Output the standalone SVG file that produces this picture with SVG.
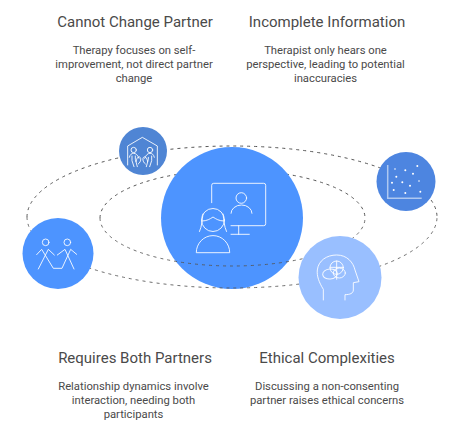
<svg xmlns="http://www.w3.org/2000/svg" width="465" height="440" viewBox="0 0 465 440">
<style>
.t{font-family:Roboto,"Liberation Sans",sans-serif;fill:#4a4a4a;text-anchor:middle}
.h{font-size:15px}
.b{font-size:11.250px}
.o{fill:none;stroke:#555;stroke-width:1;stroke-dasharray:3 4}
.i{fill:none;stroke:#fff;stroke-opacity:.88;stroke-width:1;stroke-linecap:round;stroke-linejoin:round}
.j{fill:none;stroke:#fff;stroke-opacity:.88;stroke-width:3;stroke-linecap:round;stroke-linejoin:round}
.d{fill:#fff}
</style>
<rect width="465" height="440" fill="#fff"/>
<g id="connectors-back">
<path class="o" d="M27 217A205 71 0 0 1 437 217"/>
<path class="o" d="M100 218A132.500 48 0 0 1 365 218"/>
</g>
<g id="node-center">
<circle cx="232" cy="218" r="71" fill="#4d94ff"/>
<path class="i" d="M211.700 202.700V185.300a2 2 0 0 1 2-2H263.700a2 2 0 0 1 2 2V223.700a2 2 0 0 1-2 2H231M238.700 225.700V234.300M231 234.300H249.300"/>
<circle class="i" cx="241.300" cy="198" r="5.300"/>
<path class="i" d="M231 213.300a10.500 8.300 0 0 1 21 0"/>
<circle class="i" cx="213" cy="220" r="11.500"/>
<path class="i" d="M202 221c5 0 8-2 11-4c3 2 6 4 11 4M203 214c-1 6-1 12-3.500 17.500M223 214c1 6 1 12 3.500 17.500"/>
<path class="i" d="M196.300 252.300a16.700 16.700 0 0 1 33.400 0Z"/>
</g>
<g id="connectors-front">
<path class="o" d="M27 217A205 71 0 0 0 437 217" stroke-opacity=".85"/>
<path class="o" d="M100 218A132.500 48 0 0 0 365 218" stroke-opacity=".85"/>
</g>
<g id="node-cannot-change">
<circle cx="143" cy="151" r="24" fill="#4f85d4"/>
<g transform="translate(110 120) scale(.3333)">
<path class="j" d="M53 135V78L97 52L142 78V135"/>
<circle class="j" cx="71" cy="90" r="8"/>
<circle class="j" cx="120" cy="90" r="8"/>
<path class="j" d="M58 112C60 103 65 100 71 100C78 100 83 105 87 115M133 112C131 103 126 100 120 100C113 100 108 105 104 115M66 108V122L72 140M76 108V118L82 140M125 108V122L119 140M115 112V118L109 140M78 125C80 112 88 105 92 115C94 122 88 130 85 132M113 125C111 112 103 105 99 115C97 122 103 130 106 132"/>
</g>
</g>
<g id="node-incomplete">
<circle cx="406" cy="181.500" r="29.500" fill="#4d85e0"/>
<path d="M387.700 165V198.300H421.700" fill="none" stroke="#fff" stroke-opacity=".55" stroke-width="1.500"/>
<g class="d">
<circle cx="395" cy="169" r="1" opacity=".6"/><circle cx="405.300" cy="170.300" r="1"/><circle cx="417.300" cy="166" r="1"/>
<circle cx="396.300" cy="176.700" r="1"/><circle cx="413" cy="173.700" r="1"/><circle cx="392" cy="182.700" r="1"/>
<circle cx="402.300" cy="182.300" r="1"/><circle cx="410" cy="185.700" r="1"/><circle cx="419" cy="181" r="1" opacity=".6"/>
<circle cx="393.700" cy="190" r="1"/><circle cx="405.300" cy="193" r="1"/><circle cx="420.300" cy="191.700" r="1"/>
</g>
</g>
<g id="node-requires-both">
<circle cx="58" cy="253.500" r="35.500" fill="#4d94ff"/>
<g transform="translate(0 200) scale(.3333)">
<circle class="j" cx="137" cy="127" r="10"/>
<circle class="j" cx="202" cy="127" r="10"/>
<path class="j" d="M110 164L125 148L160 205H186L212 148L230 163M115 207L145 148L163 165M172 165L195 148L222 207"/>
</g>
</g>
<g id="node-ethical">
<circle cx="340" cy="277.500" r="41.500" fill="#99bfff"/>
<g transform="translate(310 250) scale(.3333)">
<path class="j" d="M40 150V118C27 97 20 78 22 60C25 32 50 15 80 15C112 15 130 38 135 60L147 95L130 98V120C130 130 120 134 105 134V150"/>
<circle class="j" cx="80" cy="53" r="20"/>
<ellipse class="j" cx="60" cy="72" rx="22" ry="15" transform="rotate(-5 60 72)"/>
<ellipse class="j" cx="88" cy="69" rx="18" ry="15"/>
<path class="j" d="M80 33V88M60 52H100"/>
</g>
</g>
<g id="label-cannot-change">
<text class="t h" x="135" y="27">Cannot Change Partner</text>
<text class="t b" x="134" y="54">Therapy focuses on self-</text>
<text class="t b" x="134" y="68">improvement, not direct partner</text>
<text class="t b" x="134" y="82">change</text>
</g>
<g id="label-incomplete">
<text class="t h" x="327" y="27">Incomplete Information</text>
<text class="t b" x="325.500" y="54">Therapist only hears one</text>
<text class="t b" x="325.500" y="68">perspective, leading to potential</text>
<text class="t b" x="325.500" y="82">inaccuracies</text>
</g>
<g id="label-requires-both">
<text class="t h" x="135" y="363">Requires Both Partners</text>
<text class="t b" x="133.500" y="390">Relationship dynamics involve</text>
<text class="t b" x="133.500" y="404">interaction, needing both</text>
<text class="t b" x="133.500" y="418">participants</text>
</g>
<g id="label-ethical">
<text class="t h" x="327" y="363">Ethical Complexities</text>
<text class="t b" x="327" y="390">Discussing a non-consenting</text>
<text class="t b" x="327" y="404">partner raises ethical concerns</text>
</g>
</svg>
